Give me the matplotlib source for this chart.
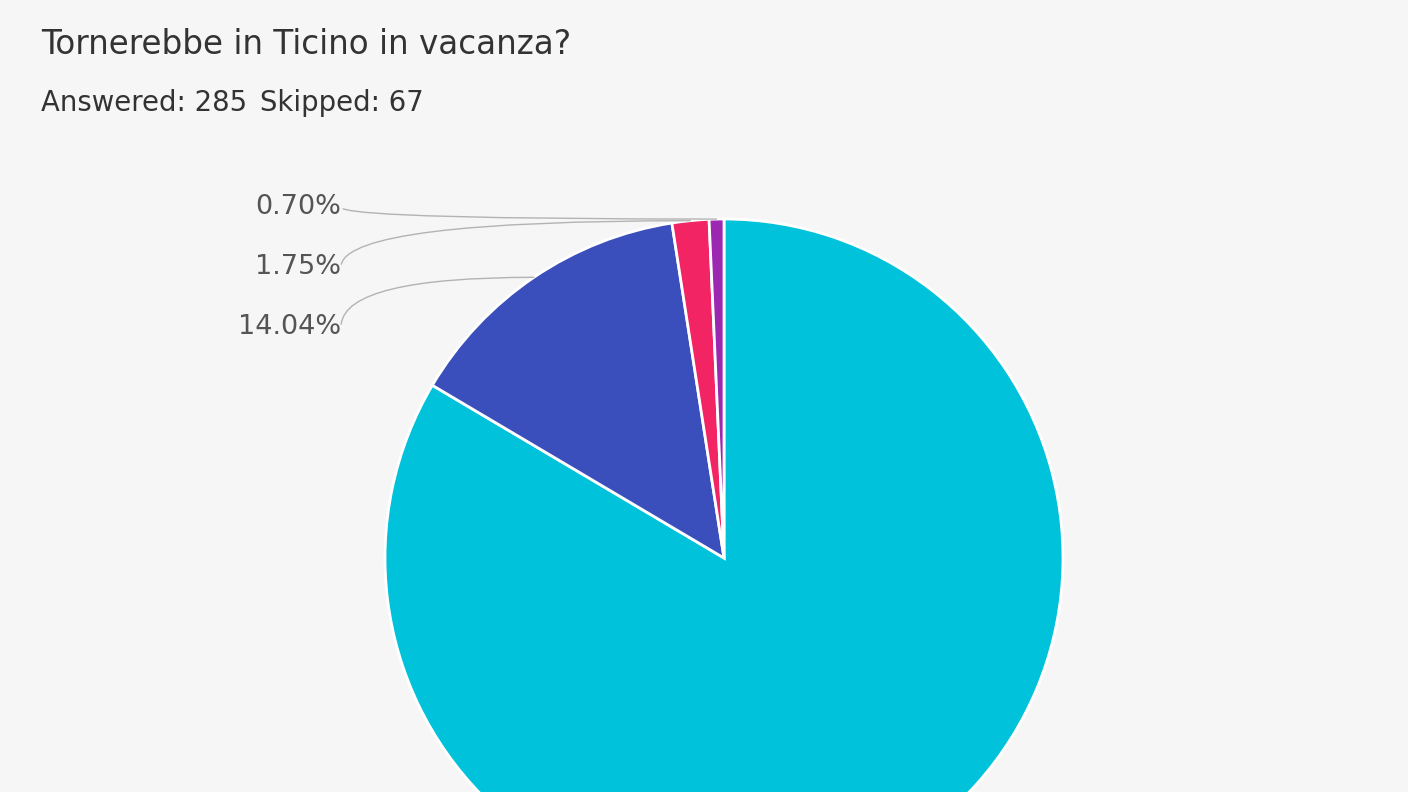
import numpy as np
import matplotlib.pyplot as plt

plt.rcParams['font.family'] = ['DejaVu Sans']

# risposte (conteggi su 285)
counts = [238, 40, 5, 2]
colors = ['#00c2da', '#3b4fbc', '#f22463', '#9c27b0']
pct_labels = ['83.51%', '14.04%', '1.75%', '0.70%']
shown = [1, 2, 3]  # etichette visibili nel riquadro

fig = plt.figure(figsize=(14.08, 7.92), dpi=100, facecolor='#f6f6f6')
ax = fig.add_axes([0, 0, 1, 1])
ax.set_facecolor('#f6f6f6')

wedges, _ = ax.pie(counts, colors=colors, startangle=90, counterclock=False,
                   radius=1, wedgeprops=dict(edgecolor='white', linewidth=2))

# centro e raggio in pixel
cx, cy, r = 724, 558, 339
W, H = 1408, 792
ax.set_xlim(-cx / r, (W - cx) / r)
ax.set_ylim((cy - H) / r, cy / r)
ax.set_aspect('equal')
ax.axis('off')

label_y = [327, 267, 207]
for i, py in zip(shown, label_y):
    w = wedges[i]
    ang = np.deg2rad((w.theta1 + w.theta2) / 2)
    xy = (np.cos(ang), np.sin(ang))
    xt = ((341 - cx) / r, (cy - py) / r)
    ax.annotate(pct_labels[i], xy=xy, xytext=xt, ha='right', va='center',
                fontsize=19.5, color='#555555',
                arrowprops=dict(arrowstyle='-', color='#b3b3b3', lw=1,
                                patchA=None, shrinkA=-2, shrinkB=0,
                                relpos=(1, 0.5),
                                connectionstyle='angle3,angleA=90,angleB=0'))

fig.text(41 / W, 1 - 45 / H, 'Tornerebbe in Ticino in vacanza?', fontsize=23.5,
         color='#333333', va='center')
fig.text(41 / W, 1 - 103 / H, 'Answered: 285', fontsize=19.8,
         color='#333333', va='center')
fig.text(260 / W, 1 - 103 / H, 'Skipped: 67', fontsize=19.8,
         color='#333333', va='center')

fig.savefig('out.png', dpi=100, facecolor=fig.get_facecolor())
